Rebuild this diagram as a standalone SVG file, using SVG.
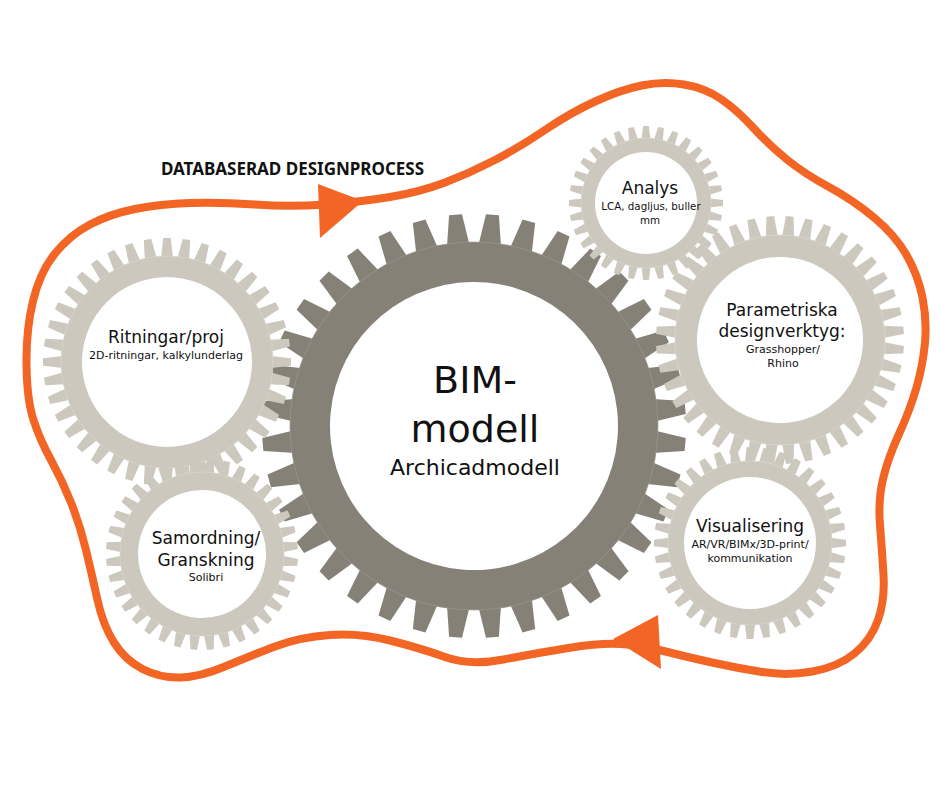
<svg xmlns="http://www.w3.org/2000/svg" xmlns:xlink="http://www.w3.org/1999/xlink" width="940" height="788" viewBox="0 0 940 788">
<style>
  .dark { fill: #858177; }
  .light { fill: #CCC8BD; }
  .hole { fill: #ffffff; }
  .rootline { fill: none; stroke-width: 0.7; }
  .flow { fill: none; stroke: #F26524; stroke-width: 8; stroke-linejoin: round; }
  .arrowhead { fill: #F26524; }
  text { font-family: "DejaVu Sans", "Noto Sans", sans-serif; fill: #111111; text-anchor: middle; }
  .h1 { font-size: 38px; }
  .h2 { font-size: 22px; }
  .h3 { font-size: 17px; }
  .s { font-size: 11px; }
  .xs { font-size: 10.3px; }
  .title { font-family: "Noto Sans", "Open Sans", sans-serif; font-size: 17px; font-weight: 700; }
</style>
<defs>
  <polygon id="tb" points="-12,-176 -6.5,-212 6.5,-212 12,-176"/>
  <g id="tb6">
    <use xlink:href="#tb"/><use xlink:href="#tb" transform="rotate(10)"/><use xlink:href="#tb" transform="rotate(20)"/>
    <use xlink:href="#tb" transform="rotate(30)"/><use xlink:href="#tb" transform="rotate(40)"/><use xlink:href="#tb" transform="rotate(50)"/>
  </g>
  <g id="tb36">
    <use xlink:href="#tb6"/><use xlink:href="#tb6" transform="rotate(60)"/><use xlink:href="#tb6" transform="rotate(120)"/>
    <use xlink:href="#tb6" transform="rotate(180)"/><use xlink:href="#tb6" transform="rotate(240)"/><use xlink:href="#tb6" transform="rotate(300)"/>
  </g>
  <polygon id="tl" points="-6.4,-100 -3.8,-124 3.8,-124 6.4,-100"/>
  <g id="tl5">
    <use xlink:href="#tl"/><use xlink:href="#tl" transform="rotate(9)"/><use xlink:href="#tl" transform="rotate(18)"/>
    <use xlink:href="#tl" transform="rotate(27)"/><use xlink:href="#tl" transform="rotate(36)"/>
  </g>
  <g id="tl40">
    <use xlink:href="#tl5"/><use xlink:href="#tl5" transform="rotate(45)"/><use xlink:href="#tl5" transform="rotate(90)"/><use xlink:href="#tl5" transform="rotate(135)"/>
    <use xlink:href="#tl5" transform="rotate(180)"/><use xlink:href="#tl5" transform="rotate(225)"/><use xlink:href="#tl5" transform="rotate(270)"/><use xlink:href="#tl5" transform="rotate(315)"/>
  </g>
  <polygon id="tm" points="-5.5,-78 -3.3,-96 3.3,-96 5.5,-78"/>
  <g id="tm6">
    <use xlink:href="#tm"/><use xlink:href="#tm" transform="rotate(10)"/><use xlink:href="#tm" transform="rotate(20)"/>
    <use xlink:href="#tm" transform="rotate(30)"/><use xlink:href="#tm" transform="rotate(40)"/><use xlink:href="#tm" transform="rotate(50)"/>
  </g>
  <g id="tm36">
    <use xlink:href="#tm6"/><use xlink:href="#tm6" transform="rotate(60)"/><use xlink:href="#tm6" transform="rotate(120)"/>
    <use xlink:href="#tm6" transform="rotate(180)"/><use xlink:href="#tm6" transform="rotate(240)"/><use xlink:href="#tm6" transform="rotate(300)"/>
  </g>
  <polygon id="ts" points="-4.8,-61 -2.9,-77 2.9,-77 4.8,-61"/>
  <g id="ts4">
    <use xlink:href="#ts"/><use xlink:href="#ts" transform="rotate(11.25)"/><use xlink:href="#ts" transform="rotate(22.5)"/><use xlink:href="#ts" transform="rotate(33.75)"/>
  </g>
  <g id="ts32">
    <use xlink:href="#ts4"/><use xlink:href="#ts4" transform="rotate(45)"/><use xlink:href="#ts4" transform="rotate(90)"/><use xlink:href="#ts4" transform="rotate(135)"/>
    <use xlink:href="#ts4" transform="rotate(180)"/><use xlink:href="#ts4" transform="rotate(225)"/><use xlink:href="#ts4" transform="rotate(270)"/><use xlink:href="#ts4" transform="rotate(315)"/>
  </g>
</defs>
<rect width="940" height="788" fill="#ffffff"/>

<g id="connectors">
  <path class="flow" d="M33.5,420 Q27,400 26.5,365 Q26,330 33,301 Q40,272 55,253.5 Q70,235 90,224.5 Q110,214 135,209 Q160,204 190,203 Q220,202 255,204.5 Q290,207 325,204.5 Q360,202 390,197 Q420,192 445,182.5 Q470,173 495,160 Q520,147 545,130 Q570,113 595,101.5 Q620,90 641.5,85.5 Q663,81 684,84.5 Q705,88 721,99 Q737,110 753.5,128 Q770,146 787.5,160 Q805,174 829,187 Q853,200 874,217.5 Q895,235 906.5,255 Q918,275 922.5,297.5 Q927,320 925,342.5 Q923,365 916.5,387.5 Q910,410 899,434 Q888,458 883,479 Q878,500 880,525 Q882,550 883.5,575 Q885,600 878,620 Q871,640 854.5,653.5 Q838,667 812.5,671.5 Q787,676 762,672 Q737,668 712,662.5 Q687,657 663.5,651 Q640,645 620,644 Q600,643 568.5,648 Q537,653 503.5,659.5 Q470,666 445,657 Q420,648 390,640.5 Q360,633 330,635 Q300,637 275,646.5 Q250,656 225,666.5 Q200,677 180,677.5 Q160,678 142.5,669 Q125,660 114,642.5 Q103,625 97.5,600 Q92,575 86,550 Q80,525 71,502.5 Q62,480 51,460 Q40,440 33.5,420 Z"/>
  <polygon class="arrowhead" points="318,184 320,238 363,201"/>
  <polygon class="arrowhead" points="658,615 661,669 613,639"/>
</g>

<text class="title" x="292.5" y="175">DATABASERAD DESIGNPROCESS</text>

<g id="bim-modell">
  <g transform="translate(474,426) rotate(5)">
    <use xlink:href="#tb36" class="dark"/>
    <circle r="184" class="dark"/>
    <circle r="184" class="rootline" stroke="#9a978d"/>
    <circle r="144" class="hole"/>
  </g>
  <text class="h1" x="475" y="393">BIM-</text>
  <text class="h1" x="475" y="442">modell</text>
  <text class="h2" x="475" y="475">Archicadmodell</text>
</g>

<g id="ritningar">
  <g transform="translate(167,362)">
    <use xlink:href="#tl40" class="light"/>
    <circle r="106" class="light"/>
    <circle r="106" class="rootline" stroke="#d8d5cb"/>
    <circle r="85" class="hole"/>
  </g>
  <text class="h3" x="166" y="343">Ritningar/proj</text>
  <text class="s" x="166" y="359">2D-ritningar, kalkylunderlag</text>
</g>

<g id="samordning">
  <g transform="translate(202,554) rotate(5)">
    <use xlink:href="#tm36" class="light"/>
    <circle r="82" class="light"/>
    <circle r="82" class="rootline" stroke="#d8d5cb"/>
    <circle r="64" class="hole"/>
  </g>
  <text class="h3" x="206" y="544">Samordning/</text>
  <text class="h3" x="206" y="566">Granskning</text>
  <text class="s" x="206" y="581">Solibri</text>
</g>

<g id="analys">
  <g transform="translate(646,203)">
    <use xlink:href="#ts32" class="light"/>
    <circle r="65" class="light"/>
    <circle r="65" class="rootline" stroke="#d8d5cb"/>
    <circle r="51" class="hole"/>
  </g>
  <text class="h3" x="650" y="194">Analys</text>
  <text class="xs" x="651" y="210">LCA, dagljus, buller</text>
  <text class="xs" x="650" y="224">mm</text>
</g>

<g id="parametriska">
  <g transform="translate(780,340) rotate(4.5)">
    <use xlink:href="#tl40" class="light"/>
    <circle r="105" class="light"/>
    <circle r="105" class="rootline" stroke="#d8d5cb"/>
    <circle r="83" class="hole"/>
  </g>
  <text class="h3" x="782" y="316">Parametriska</text>
  <text class="h3" x="782" y="337">designverktyg:</text>
  <text class="s" x="783" y="353">Grasshopper/</text>
  <text class="s" x="783" y="367">Rhino</text>
</g>

<g id="visualisering">
  <g transform="translate(750,543)">
    <use xlink:href="#tm36" class="light"/>
    <circle r="82" class="light"/>
    <circle r="82" class="rootline" stroke="#d8d5cb"/>
    <circle r="66" class="hole"/>
  </g>
  <text class="h3" x="750" y="532">Visualisering</text>
  <text class="s" x="750" y="548">AR/VR/BIMx/3D-print/</text>
  <text class="s" x="750" y="562">kommunikation</text>
</g>
</svg>
